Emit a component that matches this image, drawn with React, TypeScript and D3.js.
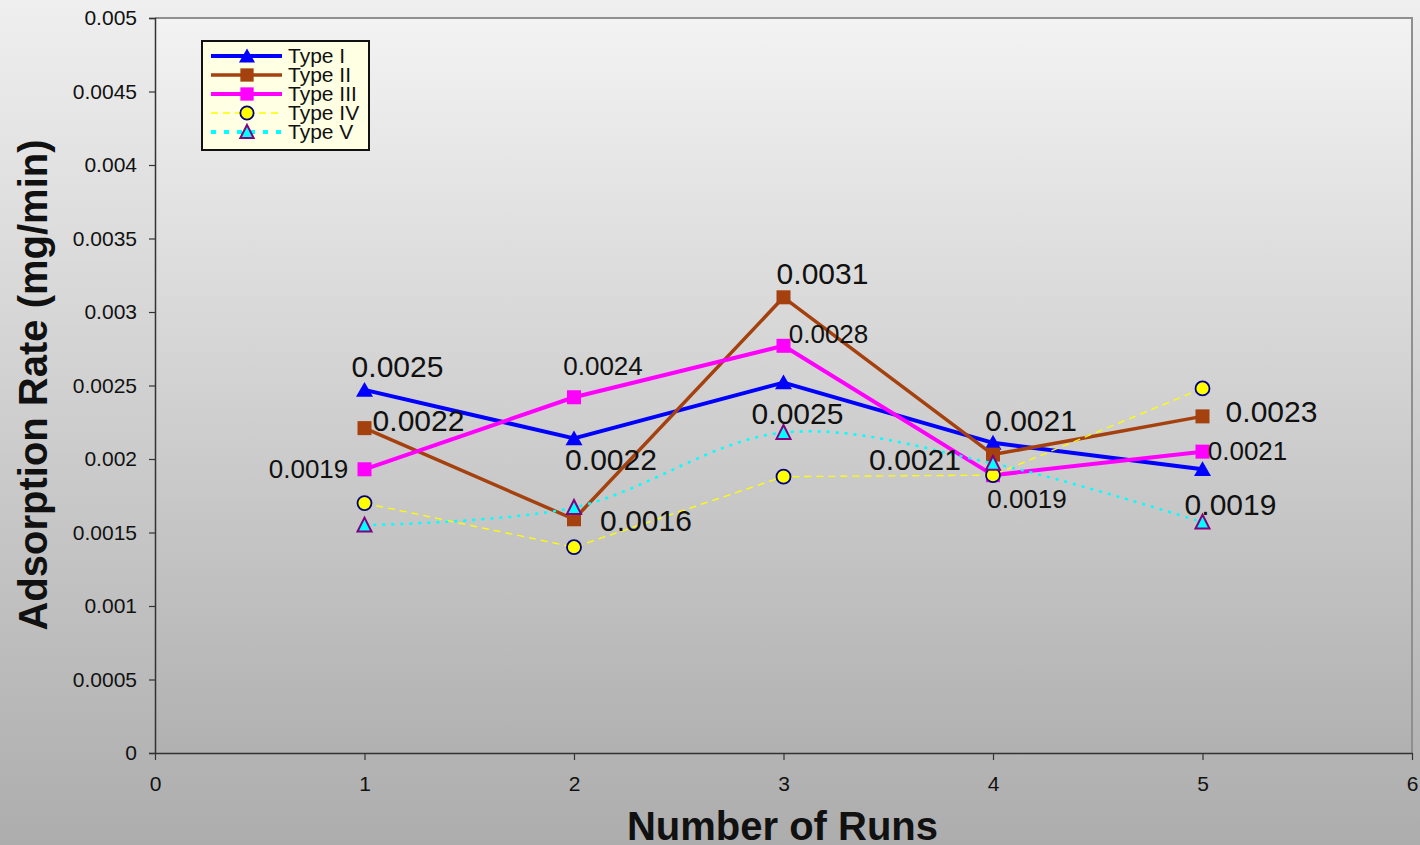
import { useEffect, useRef } from 'react';
import * as d3 from 'd3';

// Adsorption rate per run for five sample types
const RUNS = [1, 2, 3, 4, 5];
const TYPE_I = [0.00247, 0.00214, 0.00252, 0.00211, 0.00193];
const TYPE_II = [0.00221, 0.00159, 0.0031, 0.00203, 0.00229];
const TYPE_III = [0.00193, 0.00242, 0.00277, 0.00189, 0.00205];
const TYPE_IV = [0.0017, 0.0014, 0.00188, 0.00189, 0.00248];
const TYPE_V = [0.00155, 0.00167, 0.00218, 0.00197, 0.00157];

// data labels as printed on the chart (only types I–III are labelled)
const LABELS_I = ['0.0025', '0.0022', '0.0025', '0.0021', '0.0019'];
const LABELS_II = ['0.0022', '0.0016', '0.0031', '0.0021', '0.0023'];
const LABELS_III = ['0.0019', '0.0024', '0.0028', '0.0019', '0.0021'];

const X_TICKS = [0, 1, 2, 3, 4, 5, 6];
const Y_TICKS = [0, 0.0005, 0.001, 0.0015, 0.002, 0.0025, 0.003, 0.0035, 0.004, 0.0045, 0.005];

type Marker = 'triangle' | 'square' | 'circle';

interface Series {
  name: string;
  values: number[];
  labels: string[] | null;
  color: string;
  width: number;
  dash: string | null;
  marker: Marker;
  fill: string;
  stroke: string;
  smooth: boolean;
  labelSize: number;
  // label offsets from the point: [dx, baseline dy]
  offsets: [number, number][];
}

const SERIES: Series[] = [
  {
    name: 'Type I', values: TYPE_I, labels: LABELS_I, color: '#0000ff', width: 4, dash: null,
    marker: 'triangle', fill: '#0000ff', stroke: 'none', smooth: false, labelSize: 30,
    offsets: [[33, -13], [37, 32], [14, 41], [38, -12], [28, 46]],
  },
  {
    name: 'Type II', values: TYPE_II, labels: LABELS_II, color: '#a5410e', width: 3.5, dash: null,
    marker: 'square', fill: '#a5410e', stroke: 'none', smooth: false, labelSize: 30,
    offsets: [[54, 3], [72, 12], [39, -13], [-78, 15], [69, 6]],
  },
  {
    name: 'Type III', values: TYPE_III, labels: LABELS_III, color: '#ff00ff', width: 4, dash: null,
    marker: 'square', fill: '#ff00ff', stroke: 'none', smooth: false, labelSize: 26,
    offsets: [[-56, 9], [29, -22], [45, -3], [34, 33], [45, 8]],
  },
  {
    name: 'Type IV', values: TYPE_IV, labels: null, color: '#ffff00', width: 1.3, dash: '7 5',
    marker: 'circle', fill: '#ffff00', stroke: '#000080', smooth: false, labelSize: 0,
    offsets: [],
  },
  {
    name: 'Type V', values: TYPE_V, labels: null, color: '#00ffff', width: 2.5, dash: '3 6',
    marker: 'triangle', fill: '#00ffff', stroke: '#800080', smooth: true, labelSize: 0,
    offsets: [],
  },
];

const W = 1420;
const H = 845;
const PLOT = { left: 155, top: 18, right: 1412, bottom: 753 };
const FONT = '"Liberation Sans", Arial, Helvetica, sans-serif';

function drawMarker(
  g: d3.Selection<SVGGElement, unknown, null, undefined>,
  s: Series,
  cx: number,
  cy: number,
  scale = 1,
) {
  if (s.marker === 'circle') {
    g.append('circle')
      .attr('cx', cx).attr('cy', cy).attr('r', 7 * scale)
      .attr('fill', s.fill).attr('stroke', s.stroke).attr('stroke-width', 1.8);
  } else if (s.marker === 'square') {
    const h = 7 * scale;
    g.append('rect')
      .attr('x', cx - h).attr('y', cy - h).attr('width', h * 2).attr('height', h * 2)
      .attr('fill', s.fill);
  } else {
    const outlined = s.stroke !== 'none';
    const hw = (outlined ? 7 : 8.5) * scale;
    const hh = (outlined ? 7.5 : 8) * scale;
    g.append('path')
      .attr('d', `M${cx},${cy - hh} L${cx + hw},${cy + hh * 0.85} L${cx - hw},${cy + hh * 0.85} Z`)
      .attr('fill', s.fill)
      .attr('stroke', s.stroke)
      .attr('stroke-width', outlined ? 2 : 0)
      .attr('stroke-linejoin', 'miter');
  }
}

export default function App() {
  const svgRef = useRef<SVGSVGElement>(null);

  useEffect(() => {
    if (!svgRef.current) return;
    const svg = d3.select(svgRef.current);
    svg.selectAll('*').remove();

    const defs = svg.append('defs');
    const bg = defs.append('linearGradient').attr('id', 'bg').attr('x1', 0).attr('y1', 0).attr('x2', 0).attr('y2', 1);
    bg.append('stop').attr('offset', '0%').attr('stop-color', '#efefef');
    bg.append('stop').attr('offset', '100%').attr('stop-color', '#adadad');
    const pg = defs.append('linearGradient').attr('id', 'plotbg').attr('x1', 0).attr('y1', 0).attr('x2', 0).attr('y2', 1);
    pg.append('stop').attr('offset', '0%').attr('stop-color', '#f3f3f3');
    pg.append('stop').attr('offset', '100%').attr('stop-color', '#b1b1b1');

    svg.append('rect').attr('width', W).attr('height', H).attr('fill', 'url(#bg)');

    const x = d3.scaleLinear().domain([0, 6]).range([PLOT.left, PLOT.right]);
    const y = d3.scaleLinear().domain([0, 0.005]).range([PLOT.bottom, PLOT.top]);

    // plot area with grey frame on top/right
    svg.append('rect')
      .attr('x', PLOT.left).attr('y', PLOT.top)
      .attr('width', PLOT.right - PLOT.left).attr('height', PLOT.bottom - PLOT.top)
      .attr('fill', 'url(#plotbg)');
    svg.append('path')
      .attr('d', `M${PLOT.left},${PLOT.top} H${PLOT.right} V${PLOT.bottom}`)
      .attr('fill', 'none').attr('stroke', '#8f8f8f').attr('stroke-width', 2);

    // Axes
    const yAxis = svg.append('g')
      .attr('transform', `translate(${PLOT.left},0)`)
      .call(d3.axisLeft(y).tickValues(Y_TICKS).tickFormat((d) => String(+d)).tickSize(6).tickPadding(12));
    const xAxis = svg.append('g')
      .attr('transform', `translate(0,${PLOT.bottom})`)
      .call(d3.axisBottom(x).tickValues(X_TICKS).tickFormat((d) => String(d)).tickSizeInner(7).tickSizeOuter(0).tickPadding(16));
    [yAxis, xAxis].forEach((a) => {
      a.select('.domain').attr('stroke', '#333').attr('stroke-width', 1.5);
      a.selectAll('.tick line').attr('stroke', '#333').attr('stroke-width', 1.2);
      a.selectAll('.tick text')
        .attr('fill', '#111').attr('font-family', FONT).attr('font-size', 21);
    });

    // Axis titles
    svg.append('text')
      .attr('x', (PLOT.left + PLOT.right) / 2 - 1)
      .attr('y', 840)
      .attr('text-anchor', 'middle')
      .attr('font-family', FONT).attr('font-weight', 'bold').attr('font-size', 40)
      .attr('fill', '#111')
      .text('Number of Runs');
    svg.append('text')
      .attr('transform', 'translate(47,385) rotate(-90)')
      .attr('text-anchor', 'middle')
      .attr('font-family', FONT).attr('font-weight', 'bold').attr('font-size', 40)
      .attr('fill', '#111')
      .text('Adsorption Rate (mg/min)');

    const g = svg.append('g');

    // Series lines + markers
    SERIES.forEach((s) => {
      const pts: [number, number][] = RUNS.map((r, i) => [x(r), y(s.values[i])]);
      const line = d3.line().curve(s.smooth ? d3.curveCatmullRom.alpha(0.5) : d3.curveLinear);
      g.append('path')
        .attr('d', line(pts))
        .attr('fill', 'none')
        .attr('stroke', s.color)
        .attr('stroke-width', s.width)
        .attr('stroke-dasharray', s.dash)
        .attr('stroke-linejoin', 'round');
      pts.forEach(([cx, cy]) => drawMarker(g, s, cx, cy));
    });

    // Data labels
    SERIES.forEach((s) => {
      if (!s.labels) return;
      s.labels.forEach((lbl, i) => {
        const [dx, dy] = s.offsets[i];
        g.append('text')
          .attr('x', x(RUNS[i]) + dx)
          .attr('y', y(s.values[i]) + dy)
          .attr('text-anchor', 'middle')
          .attr('font-family', FONT).attr('font-size', s.labelSize)
          .attr('fill', '#111')
          .text(lbl);
      });
    });

    // Legend
    const lg = svg.append('g').attr('transform', 'translate(202,41)');
    lg.append('rect')
      .attr('width', 167).attr('height', 109)
      .attr('fill', '#ffffe3').attr('stroke', '#111').attr('stroke-width', 2);
    SERIES.forEach((s, i) => {
      const ry = 15 + i * 19;
      lg.append('line')
        .attr('x1', 9).attr('x2', 80).attr('y1', ry).attr('y2', ry)
        .attr('stroke', s.color)
        .attr('stroke-width', s.dash === '3 6' ? 4 : s.width)
        .attr('stroke-dasharray', s.dash === '3 6' ? '5 8' : s.dash);
      drawMarker(lg, s, 45, ry, 0.95);
      lg.append('text')
        .attr('x', 86).attr('y', ry + 7)
        .attr('font-family', FONT).attr('font-size', 21)
        .attr('fill', '#111')
        .text(s.name);
    });
  }, []);

  return (
    <div style={{ position: 'absolute', left: 0, top: 0 }}>
      <svg ref={svgRef} width={W} height={H} style={{ display: 'block' }} />
    </div>
  );
}
